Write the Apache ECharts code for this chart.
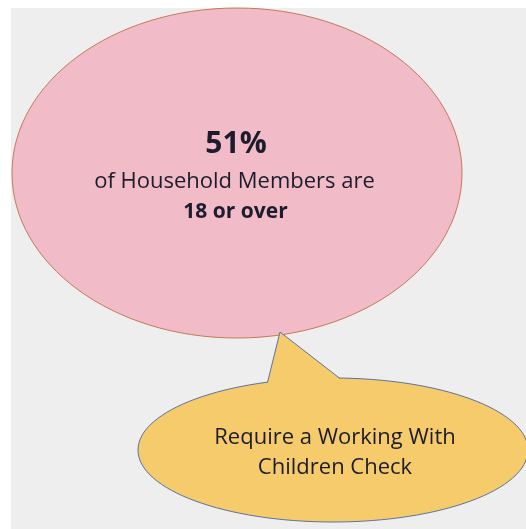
<!DOCTYPE html>
<html><head><meta charset="utf-8">
<script src="https://cdn.jsdelivr.net/npm/echarts@6/dist/echarts.min.js"></script>
<style>html,body{margin:0;padding:0;background:#fff}#c{width:526px;height:529px}</style>
</head><body><div id="c"></div>
<script>
// Data
var shareValue = [51];
var shareUnit = ['%'];
var mainLines = ['of Household Members are', '18 or over'];
var calloutLines = ['Require a Working With', 'Children Check'];

var chart = echarts.init(document.getElementById('c'), null, {renderer: 'canvas'});
var FONT = '"Open Sans", Lato, sans-serif';
var ink = '#1c1c2c';
var option = {
  animation: false,
  backgroundColor: '#ffffff',
  graphic: [
    {type: 'rect', shape: {x: 11, y: 8, width: 520, height: 530}, style: {fill: '#eeeeee'}, silent: true},
    {type: 'ellipse', shape: {cx: 237, cy: 173, rx: 225, ry: 165},
      style: {fill: '#f2bbc8', stroke: '#c47a58', lineWidth: 1}},
    {type: 'ellipse', shape: {cx: 333, cy: 450, rx: 195, ry: 72},
      style: {fill: '#f5cb6b', stroke: '#5d72a0', lineWidth: 1}},
    {type: 'polygon', shape: {points: [[280, 332], [267.5, 382.5], [268, 389], [339, 385], [340, 378.5]]},
      style: {fill: '#f5cb6b'}},
    {type: 'polyline', shape: {points: [[267.5, 382.5], [280, 332], [340, 378.5]]},
      style: {stroke: '#5d72a0', lineWidth: 1, fill: null}},
    {type: 'text', x: 236, y: 144, style: {text: shareValue[0] + shareUnit[0], font: 'bold 30px ' + FONT, fill: ink, align: 'center', verticalAlign: 'middle'}},
    {type: 'text', x: 234.5, y: 182, style: {text: mainLines[0], font: '22px ' + FONT, fill: ink, align: 'center', verticalAlign: 'middle'}},
    {type: 'text', x: 235.5, y: 212, style: {text: mainLines[1], font: 'bold 21px ' + FONT, fill: ink, align: 'center', verticalAlign: 'middle'}},
    {type: 'text', x: 335, y: 438, style: {text: calloutLines[0], font: '22px ' + FONT, fill: ink, align: 'center', verticalAlign: 'middle'}},
    {type: 'text', x: 335, y: 468, style: {text: calloutLines[1], font: '22px ' + FONT, fill: ink, align: 'center', verticalAlign: 'middle'}}
  ]
};
chart.setOption(option);
</script></body></html>
